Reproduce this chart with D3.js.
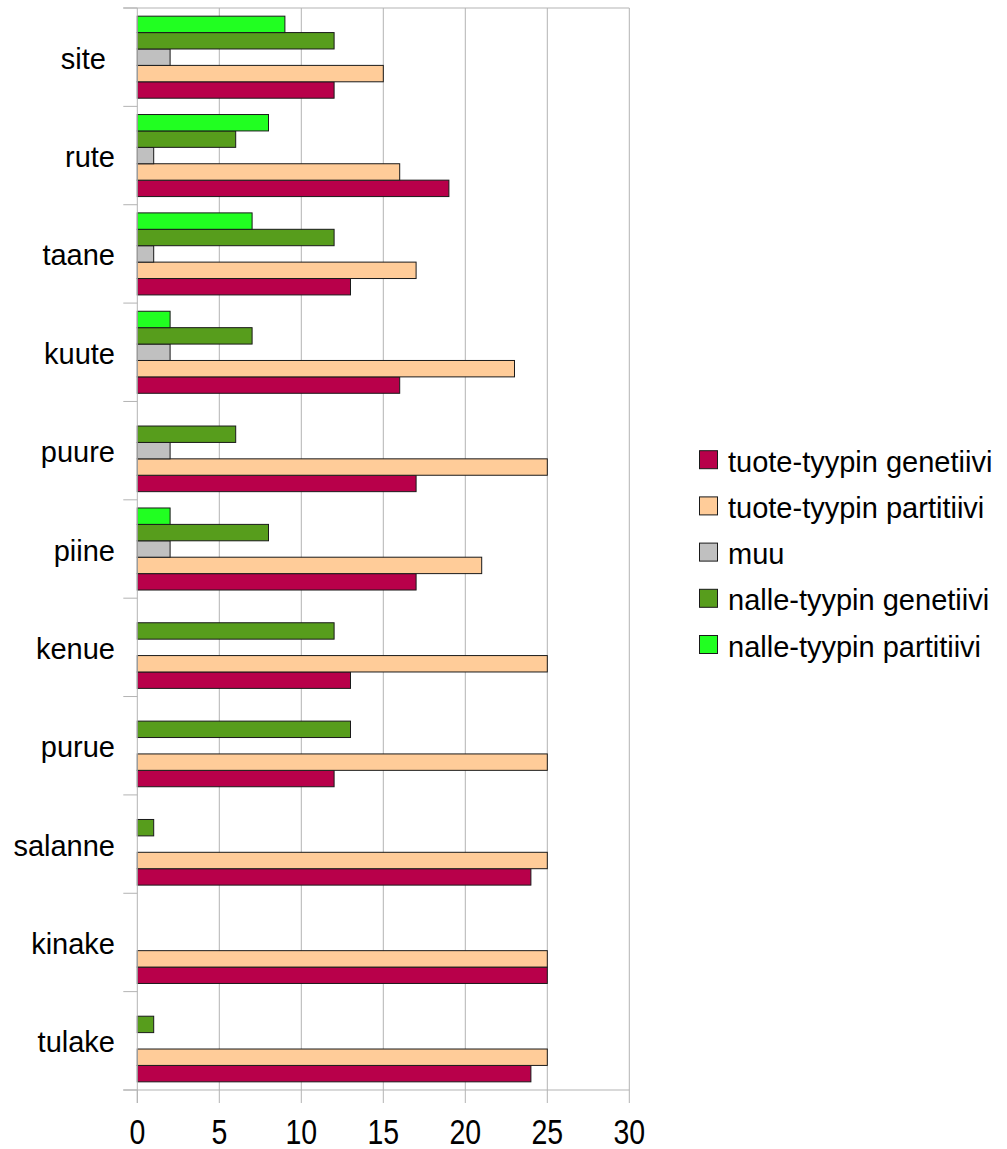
<!DOCTYPE html>
<html>
<head>
<meta charset="utf-8">
<script src="https://cdn.jsdelivr.net/npm/d3@7"></script>
<style>
  html, body { margin: 0; padding: 0; background: #fff; }
  svg { display: block; }
  text { font-family: "Liberation Sans", Arial, sans-serif; fill: #000; }
</style>
</head>
<body>
<svg id="chart" width="1007" height="1149"></svg>
<script>
const categories = ["site", "rute", "taane", "kuute", "puure", "piine", "kenue", "purue", "salanne", "kinake", "tulake"];
const seriesNames = ["tuote-tyypin genetiivi", "tuote-tyypin partitiivi", "muu", "nalle-tyypin genetiivi", "nalle-tyypin partitiivi"];
const seriesColors = ["#b8004a", "#ffcc99", "#c0c0c0", "#579d1c", "#21ff21"];
const tuoteGenetiivi  = [12, 19, 13, 16, 17, 17, 13, 12, 24, 25, 24];
const tuotePartitiivi = [15, 16, 17, 23, 25, 21, 25, 25, 25, 25, 25];
const muu             = [2, 1, 1, 2, 2, 2, 0, 0, 0, 0, 0];
const nalleGenetiivi  = [12, 6, 12, 7, 6, 8, 12, 13, 1, 0, 1];
const nallePartitiivi = [9, 8, 7, 2, 0, 2, 0, 0, 0, 0, 0];
const xTicks = [0, 5, 10, 15, 20, 25, 30];

const seriesValues = [tuoteGenetiivi, tuotePartitiivi, muu, nalleGenetiivi, nallePartitiivi];

const svg = d3.select("#chart");
const pLeft = 137.3, pRight = 629.3, pTop = 8, pBottom = 1090;

const x = d3.scaleLinear().domain([0, 30]).range([pLeft, pRight]);
const y = d3.scaleBand().domain(categories).range([pTop, pBottom]).paddingInner(0).paddingOuter(0);
const pad = 0.166;
const inner = d3.scaleBand().domain([4, 3, 2, 1, 0])
  .range([y.bandwidth() * pad / 2, y.bandwidth() * (1 - pad / 2)]).padding(0);

const grid = "#b3b3b3";

// vertical gridlines
svg.append("g").selectAll("line").data(xTicks.slice(1)).join("line")
  .attr("x1", d => x(d)).attr("x2", d => x(d))
  .attr("y1", pTop).attr("y2", pBottom)
  .attr("stroke", grid).attr("stroke-width", 1);

// top border line
svg.append("line").attr("x1", pLeft - 14).attr("x2", pRight).attr("y1", pTop).attr("y2", pTop)
  .attr("stroke", grid).attr("stroke-width", 1);

// bars
const g = svg.append("g");
categories.forEach((c, ci) => {
  seriesValues.forEach((vals, si) => {
    const v = vals[ci];
    if (v <= 0) return;
    g.append("rect")
      .attr("x", x(0))
      .attr("y", y(c) + inner(si))
      .attr("width", x(v) - x(0))
      .attr("height", inner.bandwidth())
      .attr("fill", seriesColors[si])
      .attr("stroke", "#1a1a1a")
      .attr("stroke-width", 1);
  });
});

// y axis line and category ticks
svg.append("line").attr("x1", pLeft).attr("x2", pLeft).attr("y1", pTop).attr("y2", pBottom + 13)
  .attr("stroke", grid).attr("stroke-width", 1);
const bounds = categories.map(c => y(c)).concat([pBottom]);
svg.append("g").selectAll("line").data(bounds).join("line")
  .attr("x1", pLeft - 14).attr("x2", pLeft)
  .attr("y1", d => d).attr("y2", d => d)
  .attr("stroke", grid).attr("stroke-width", 1);

// x axis line and ticks
svg.append("line").attr("x1", pLeft - 14).attr("x2", pRight).attr("y1", pBottom).attr("y2", pBottom)
  .attr("stroke", grid).attr("stroke-width", 1);
svg.append("g").selectAll("line").data(xTicks).join("line")
  .attr("x1", d => x(d)).attr("x2", d => x(d))
  .attr("y1", pBottom).attr("y2", pBottom + 13)
  .attr("stroke", grid).attr("stroke-width", 1);

// x tick labels
svg.append("g").selectAll("text").data(xTicks).join("text")
  .attr("text-anchor", "middle")
  .attr("transform", d => `translate(${x(d)},1144) scale(1,1.22)`)
  .style("font-size", "28.5px")
  .text(d => d);

// category labels
svg.append("g").selectAll("text").data(categories).join("text")
  .attr("x", c => c === "site" ? 106 : 115)
  .attr("y", c => y(c) + y.bandwidth() / 2 + 11.5)
  .attr("text-anchor", "end")
  .style("font-size", "29px")
  .text(c => c);

// legend
const lg = svg.append("g");
seriesNames.forEach((name, i) => {
  const yy = 450.7 + i * 46.2;
  lg.append("rect").attr("x", 699.5).attr("y", yy).attr("width", 18).attr("height", 18)
    .attr("fill", seriesColors[i]).attr("stroke", "#1a1a1a").attr("stroke-width", 1);
  lg.append("text").attr("x", 728).attr("y", yy + 21).style("font-size", "29px").text(name);
});
</script>
</body>
</html>
